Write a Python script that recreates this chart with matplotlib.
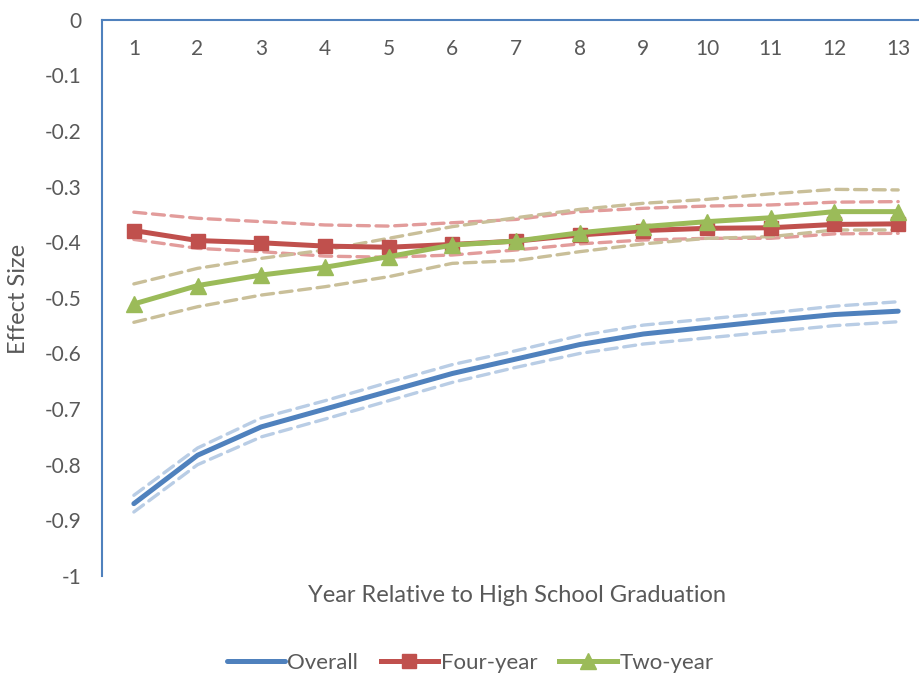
import matplotlib
matplotlib.use("Agg")
import matplotlib.pyplot as plt
import matplotlib.transforms as mtransforms

plt.rcParams['font.family'] = ['Lato', 'DejaVu Sans']

years = list(range(1, 14))

# point estimates
overall = [-0.870, -0.783, -0.732, -0.700, -0.668, -0.636, -0.610, -0.584, -0.565, -0.553, -0.541, -0.530, -0.524]
four_year = [-0.379, -0.397, -0.401, -0.407, -0.409, -0.404, -0.398, -0.387, -0.379, -0.375, -0.374, -0.368, -0.367]
two_year = [-0.511, -0.478, -0.459, -0.445, -0.426, -0.405, -0.398, -0.383, -0.372, -0.363, -0.356, -0.345, -0.345]

# 95% confidence bounds
overall_hi = [-0.855, -0.770, -0.716, -0.685, -0.652, -0.620, -0.595, -0.568, -0.549, -0.538, -0.527, -0.515, -0.507]
overall_lo = [-0.885, -0.800, -0.750, -0.718, -0.685, -0.652, -0.625, -0.600, -0.583, -0.572, -0.561, -0.550, -0.543]
four_hi = [-0.346, -0.357, -0.363, -0.369, -0.371, -0.365, -0.359, -0.345, -0.339, -0.335, -0.333, -0.328, -0.327]
four_lo = [-0.395, -0.411, -0.417, -0.425, -0.427, -0.423, -0.414, -0.403, -0.396, -0.393, -0.393, -0.385, -0.384]
two_hi = [-0.475, -0.447, -0.429, -0.414, -0.393, -0.372, -0.356, -0.341, -0.330, -0.323, -0.313, -0.305, -0.306]
two_lo = [-0.544, -0.516, -0.495, -0.480, -0.462, -0.438, -0.433, -0.417, -0.403, -0.393, -0.390, -0.378, -0.378]

y_ticks = [0, -0.1, -0.2, -0.3, -0.4, -0.5, -0.6, -0.7, -0.8, -0.9, -1]
y_tick_labels = ['0', '-0.1', '-0.2', '-0.3', '-0.4', '-0.5', '-0.6', '-0.7', '-0.8', '-0.9', '-1']

BLUE = '#4f81bd'
RED = '#c0504d'
GREEN = '#9bbb59'
TEXT = '#595959'

fig = plt.figure(figsize=(9.19, 6.8), dpi=100)
ax = fig.add_axes([0.111, 0.153, 0.901, 0.818])

dash = dict(linestyle=(0, (3.6, 2.0)), linewidth=2.4, dash_capstyle='round', zorder=2)
ax.plot(years, overall_hi, color='#b9cde5', **dash)
ax.plot(years, overall_lo, color='#b9cde5', **dash)
ax.plot(years, four_hi, color='#e29c9b', **dash)
ax.plot(years, four_lo, color='#e29c9b', **dash)
ax.plot(years, two_hi, color='#c9bf99', **dash)
ax.plot(years, two_lo, color='#c9bf99', **dash)

ax.plot(years, overall, color=BLUE, linewidth=3.6, solid_capstyle='round',
        solid_joinstyle='round', label='Overall', zorder=3)
ax.plot(years, four_year, color=RED, linewidth=3.6, marker='s', markersize=10,
        solid_joinstyle='round', label='Four-year', zorder=4)
ax.plot(years, two_year, color=GREEN, linewidth=3.6, marker='^', markersize=11,
        solid_joinstyle='round', label='Two-year', zorder=5)

ax.set_xlim(0.5, 13.5)
ax.set_ylim(-1, 0)
ax.set_yticks(y_ticks)
ax.set_yticklabels(y_tick_labels)
ax.tick_params(axis='y', length=0, pad=15, labelsize=15, labelcolor=TEXT)
ax.set_xticks([])

for side in ('right', 'bottom'):
    ax.spines[side].set_visible(False)
for side in ('left', 'top'):
    ax.spines[side].set_color(BLUE)
    ax.spines[side].set_linewidth(1.5)

# category labels sit just under the zero line
trans = mtransforms.blended_transform_factory(ax.transData, ax.transAxes)
for yr in years:
    ax.text(yr, 0.948, str(yr), transform=trans, ha='center', va='center',
            fontsize=15, color=TEXT)

fig.text(0.563, 0.125, 'Year Relative to High School Graduation', ha='center',
         va='center', fontsize=17, color=TEXT)
fig.text(0.02, 0.56, 'Effect Size', rotation=90, ha='center', va='center',
         fontsize=17, color=TEXT)

fig.legend(loc='center', bbox_to_anchor=(0.512, 0.025), ncol=3, frameon=False,
           fontsize=16, handlelength=2.6, handletextpad=0.1, columnspacing=1.0,
           labelcolor=TEXT)

fig.savefig('out.png', dpi=100)
